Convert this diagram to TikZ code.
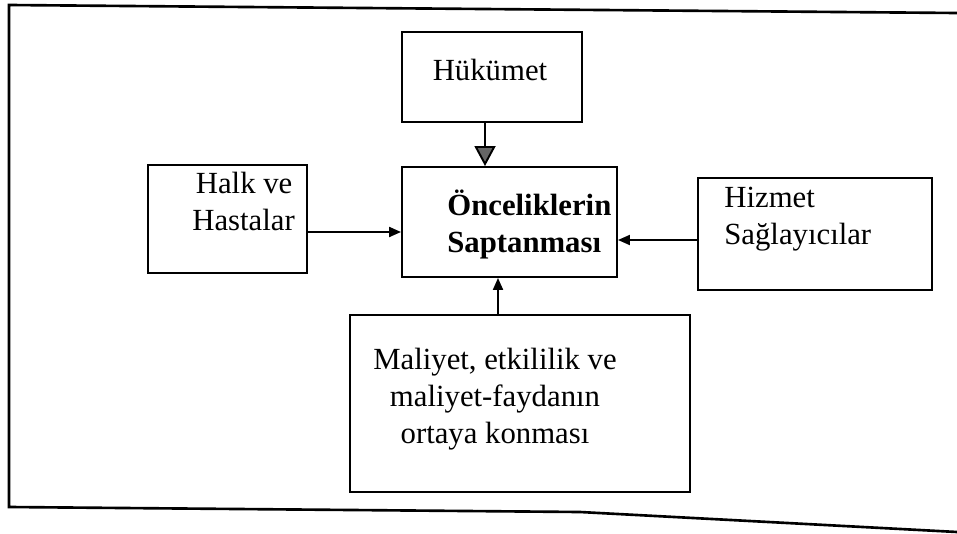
\documentclass[tikz,border=0pt]{standalone}
\usepackage{fontspec}
\setmainfont{Liberation Serif}
\usetikzlibrary{arrows.meta}

\begin{document}
\begin{tikzpicture}[
    x=0.02cm, y=-0.02cm,
    box/.style={rectangle, draw, line width=1.1pt, inner sep=0pt},
    lbl/.style={inner sep=0pt, align=left, font=\fontsize{17.5}{21}\selectfont},
    arrow/.style={-{Triangle[length=0.24cm, width=0.2cm]}, line width=1.1pt}
]
\useasboundingbox (0,0) rectangle (957,534);

% Outer frame (open on the right)
\draw[line width=1.5pt] (957,13) -- (9,5) -- (9,507) -- (580,512) -- (957,532);

% Boxes
\node[box, minimum width=3.6cm, minimum height=1.8cm] (huk) at (492,77) {};
\node[box, minimum width=4.3cm, minimum height=2.2cm] (onc) at (509.5,222) {};
\node[box, minimum width=3.18cm, minimum height=2.16cm] (halk) at (227.5,219) {};
\node[box, minimum width=4.68cm, minimum height=2.24cm] (hiz) at (815,234) {};
\node[box, minimum width=6.8cm, minimum height=3.54cm] (mal) at (520,403.5) {};

% Texts (base = last line)
\node[lbl, anchor=base] (hukT) at (490,80) {Hükümet};
\node[lbl, anchor=base west, font=\fontsize{17.5}{21}\selectfont\bfseries] (oncT) at (447,252) {Önceliklerin\\Saptanması};
\node[lbl, anchor=base west] (halkT) at (192,230) {\hspace*{2pt}Halk ve\\Hastalar};
\node[lbl, anchor=base west] (hizT) at (724,244) {Hizmet\\Sağlayıcılar};
\node[lbl, anchor=base, align=center] (malT) at (495,443) {Maliyet, etkililik ve\\maliyet-faydanın\\ortaya konması};

% Connectors into the centre box
\draw[line width=1.1pt, -{Triangle[length=0.4cm, width=0.42cm, fill=black!60]}]
    ([xshift=-0.14cm]huk.south) -- ([xshift=-0.14cm]huk.south |- onc.north);
\draw[arrow] ([yshift=-0.26cm]halk.east) -- ([yshift=-0.26cm]halk.east -| onc.west);
\draw[arrow] ([yshift=-0.12cm]hiz.west) -- ([yshift=-0.12cm]hiz.west -| onc.east);
\draw[arrow] ([xshift=-0.44cm]mal.north) -- ([xshift=-0.44cm]mal.north |- onc.south);

\end{tikzpicture}
\end{document}
